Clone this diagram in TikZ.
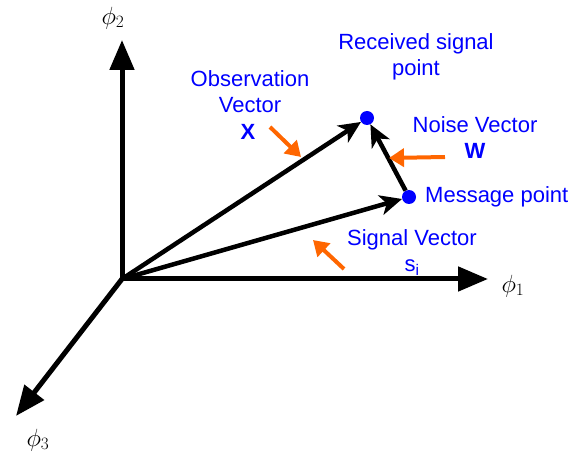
\documentclass[tikz,border=0pt]{standalone}
\usepackage{fontspec}
\setmainfont{Liberation Sans}
\usetikzlibrary{arrows.meta}
\definecolor{lblue}{RGB}{0,0,255}
\definecolor{lorange}{RGB}{255,102,0}
\tikzset{
  axis/.style={line width=5pt,-{Triangle[length=30pt,width=24pt]}},
  vec/.style={line width=4.5pt,-{Stealth[length=22pt,width=20pt,inset=6pt]}},
  pointer/.style={lorange,line width=4pt,-{Triangle[length=15pt,width=18pt]}},
  lbl/.style={text=lblue,font=\fontsize{22}{26}\selectfont,align=center,inner sep=0pt},
  bl/.style={text=lblue,font=\fontsize{22}{26}\selectfont\bfseries,inner sep=0pt},
  axlbl/.style={font=\fontsize{27}{30}\selectfont,inner sep=0pt},
  dot/.style={circle,fill=lblue,minimum size=14pt,inner sep=0pt}
}
\begin{document}
\begin{tikzpicture}[x=1pt,y=-1pt]
\useasboundingbox (0,0) rectangle (579,457);
\coordinate (O) at (122,279);
\coordinate (e2) at (122,40);
\coordinate (e1) at (488,279);
\coordinate (e3) at (16,416);
\draw[axis] (O) -- (e2);
\draw[axis] (O) -- (e1);
\draw[axis] (O) -- (e3);
\node[axlbl] (p2) at (113,18) {$\phi_2$};
\node[axlbl] (p1) at (513,286) {$\phi_1$};
\node[axlbl] (p3) at (38,440) {$\phi_3$};
\node[dot] (R) at (367,118) {};
\node[dot] (M) at (409,197) {};
\draw[vec] (O) -- (R);
\draw[vec] (O) -- (M);
\draw[vec] (M) -- (R);
\node[lbl] (rl) at (416,57) {Received signal\\point};
\node[lbl] (ol) at (250,92) {Observation\\Vector};
\node[bl] (xl) at (248,132) {X};
\node[lbl] (nl) at (475,125) {Noise Vector};
\node[bl] (wl) at (475,151) {W};
\node[lbl,anchor=west] (ml) at (425,197) {Message point};
\node[lbl] (sl) at (412,240) {Signal Vector};
\node[lbl] (si) at (412,268) {s$_{\mathrm{i}}$};
\coordinate (xa) at (270,127);
\coordinate (xb) at (301,157);
\draw[pointer] (xa) -- (xb);
\coordinate (wa) at (445,157);
\coordinate (wb) at (389,158);
\draw[pointer] (wa) -- (wb);
\coordinate (sa) at (344,269);
\coordinate (sb) at (313,240);
\draw[pointer] (sa) -- (sb);
\end{tikzpicture}
\end{document}
